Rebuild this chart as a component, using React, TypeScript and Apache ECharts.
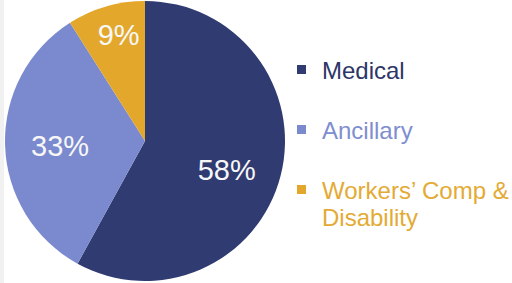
import React, { useEffect, useRef } from "react";
import * as echarts from "echarts";

const categories = ["Medical", "Ancillary", "Workers’ Comp & Disability"];
const shares = [58, 33, 9];
const sliceColors = ["#2f3b71", "#7b8ace", "#e3a82b"];
const legendTextColors = ["#2e3668", "#7f8ed0", "#e3ab35"];
const legendLines = [["Medical"], ["Ancillary"], ["Workers’ Comp &", "Disability"]];
const labelOffsets = [[11, 11], [-12, 3], [-6, -36]];
const legendY = [70, 130, 190];

export default function App() {
  const ref = useRef<HTMLDivElement>(null);
  useEffect(() => {
    if (!ref.current) return;
    const chart = echarts.init(ref.current, null, { renderer: "svg" });
    const font = "'Liberation Sans', Arial, Helvetica, sans-serif";
    const graphics: any[] = [
      { type: "rect", shape: { x: 0, y: 0, width: 4, height: 283 }, style: { fill: "#f1f1f1" }, silent: true },
    ];
    categories.forEach((c, i) => {
      graphics.push({
        type: "rect",
        shape: { x: 297, y: legendY[i] - 5, width: 9, height: 9 },
        style: { fill: sliceColors[i] },
      });
      legendLines[i].forEach((line, j) => {
        graphics.push({
          type: "text",
          x: 322,
          y: legendY[i] + j * 27,
          style: {
            text: line,
            fill: legendTextColors[i],
            font: `24px ${font}`,
            verticalAlign: "middle",
          },
        });
      });
    });
    chart.setOption({
      animation: false,
      backgroundColor: "#ffffff",
      graphic: graphics,
      series: [
        {
          type: "pie",
          center: [145, 141],
          radius: [0, 140],
          startAngle: 90,
          clockwise: true,
          avoidLabelOverlap: false,
          labelLine: { show: false },
          label: {
            show: true,
            position: "inside",
            formatter: "{c}%",
            color: "#f7f7f7",
            fontSize: 29,
            fontFamily: font,
          },
          emphasis: { disabled: true },
          data: categories.map((name, i) => ({
            name,
            value: shares[i],
            itemStyle: { color: sliceColors[i] },
            label: { offset: labelOffsets[i] },
          })),
        },
      ],
    });
    return () => chart.dispose();
  }, []);
  return (
    <div
      ref={ref}
      style={{ position: "fixed", left: 0, top: 0, width: 512, height: 283 }}
    />
  );
}
